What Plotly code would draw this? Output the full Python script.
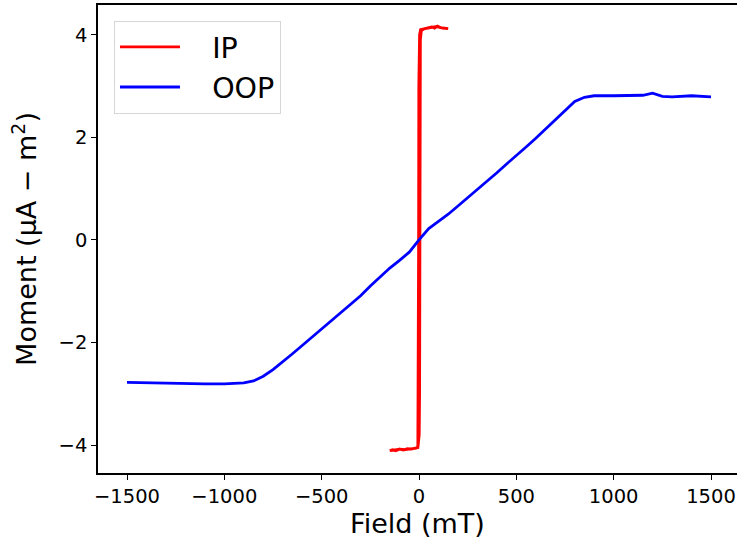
import plotly.graph_objects as go

# In-plane (IP) loop: descending then ascending branch
ip_field = [150, 130, 110, 95, 80, 65, 50, 35, 20, 8, 3, 1, -1, -2, -3, -4, -6, -20, -40, -60, -80, -100, -120, -135, -150,
            -150, -130, -100, -70, -40, -15, -5, 1, 3, 4, 5, 7, 12, 30, 60, 90, 120, 150]
ip_moment = [4.12, 4.13, 4.14, 4.17, 4.13, 4.15, 4.14, 4.13, 4.12, 4.10, 4.00, 3.70, 3.00, 0.0, -3.00, -3.90, -4.05, -4.06, -4.08, -4.07, -4.10, -4.08, -4.11, -4.09, -4.11,
             -4.11, -4.10, -4.08, -4.09, -4.07, -4.06, -4.03, -3.80, -3.00, 0.0, 3.00, 3.90, 4.08, 4.12, 4.14, 4.16, 4.13, 4.12]

# Out-of-plane (OOP) curve
oop_field = [-1500, -1400, -1300, -1200, -1100, -1000, -950, -900, -850, -800, -750, -700, -650, -600, -550, -500,
             -450, -400, -350, -300, -250, -200, -150, -100, -50, 0, 50, 100, 150, 200, 250, 300, 350, 400, 450,
             500, 550, 600, 650, 700, 750, 800, 850, 900, 1000, 1100, 1150, 1200, 1250, 1300, 1400, 1500]
oop_moment = [-2.78, -2.79, -2.79, -2.80, -2.81, -2.81, -2.80, -2.79, -2.75, -2.66, -2.53, -2.38, -2.22, -2.06, -1.90, -1.74,
              -1.58, -1.42, -1.26, -1.09, -0.90, -0.72, -0.55, -0.40, -0.24, 0.00, 0.22, 0.36, 0.50, 0.66, 0.82, 0.98, 1.14, 1.31, 1.48,
              1.64, 1.81, 1.98, 2.16, 2.35, 2.54, 2.70, 2.78, 2.81, 2.81, 2.81, 2.82, 2.86, 2.80, 2.79, 2.81, 2.79]

x_ticks = [-1500, -1000, -500, 0, 500, 1000, 1500]
y_ticks = [-4, -2, 0, 2, 4]

FONT = "DejaVu Sans"
NB = "\u00a0"

fig = go.Figure()
fig.add_trace(go.Scatter(x=ip_field, y=ip_moment, mode="lines", name=NB * 3 + "IP",
                         line=dict(color="#ff0000", width=2.8)))
fig.add_trace(go.Scatter(x=oop_field, y=oop_moment, mode="lines", name=NB * 3 + "OOP",
                         line=dict(color="#0000ff", width=2.8)))

fig.update_layout(
    width=737, height=542,
    margin=dict(l=98, r=0, t=5, b=69),
    paper_bgcolor="white", plot_bgcolor="white",
    font=dict(family=FONT, color="black"),
    showlegend=True,
    legend=dict(x=0.025, y=0.966, xanchor="left", yanchor="top",
                bgcolor="rgba(255,255,255,0.9)", bordercolor="#d6d6d6", borderwidth=1,
                font=dict(family=FONT, size=28.5), itemwidth=60,
                tracegroupgap=0),
    xaxis=dict(range=[-1649, 1633.5], tickvals=x_ticks,
               ticktext=[str(v).replace("-", "\u2212") for v in x_ticks],
               automargin=False,
               showgrid=False, zeroline=False, showline=True, linecolor="black", linewidth=1.5,
               mirror=True, ticks="outside", ticklen=5, tickwidth=1, tickcolor="black",
               tickfont=dict(family=FONT, size=19.5),
               title=dict(text="Field (mT)", font=dict(family=FONT, size=27), standoff=5)),
    yaxis=dict(range=[-4.546, 4.58], tickvals=y_ticks,
               ticktext=[str(v).replace("-", "\u2212") for v in y_ticks],
               automargin=False,
               showgrid=False, zeroline=False, showline=True, linecolor="black", linewidth=1.5,
               mirror=False, ticks="outside", ticklen=5, tickwidth=1, tickcolor="black",
               tickfont=dict(family=FONT, size=19.5),
               title=dict(text="Moment (\u03bcA \u2212 m<sup>2</sup>)", font=dict(family=FONT, size=27), standoff=14)),
)

fig.write_html("out.html", config={"displayModeBar": False},
               post_script="document.body.style.margin='0';document.body.style.overflow='hidden';")
